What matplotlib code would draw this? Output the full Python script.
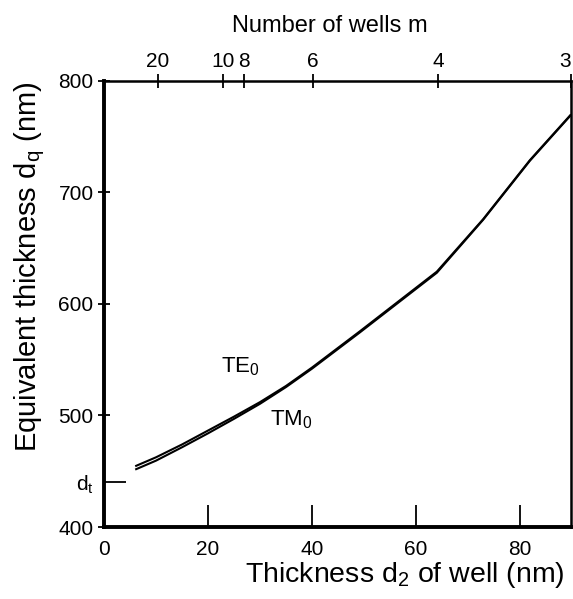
import matplotlib
matplotlib.use("Agg")
import matplotlib.pyplot as plt

plt.rcParams['font.family'] = ['Liberation Sans', 'DejaVu Sans']
plt.rcParams['mathtext.fontset'] = 'custom'
plt.rcParams['mathtext.rm'] = 'Liberation Sans'
plt.rcParams['mathtext.it'] = 'Liberation Sans:italic'

# Data
d2_te = [6.0, 10, 15, 20, 25, 30, 35, 40, 49.2, 64.0, 72.9, 81.9, 89.8]
dq_te = [454.5, 462.5, 474, 486.5, 499, 512, 526.5, 543, 575.5, 629, 676, 729, 770]
d2_tm = [6.0, 10, 15, 20, 25, 30, 35, 40, 49.2, 64.0, 72.9, 81.9, 89.8]
dq_tm = [451.5, 459.5, 471.5, 484, 497, 510.5, 525.5, 542, 574.5, 628, 675.5, 728.5, 769.5]

y_ticks = [400, 500, 600, 700, 800]
x_ticks = [0, 20, 40, 60, 80]
d_t = 440

wells_m = [20, 10, 8, 6, 4, 3]
wells_d2 = [10.4, 22.9, 26.9, 40.2, 64.2, 89.8]

fig = plt.figure(figsize=(5.73, 5.99), dpi=100)
ax = fig.add_axes([0.1815, 0.1202, 0.815, 0.7446])

ax.plot(d2_te, dq_te, color='black', lw=1.5, solid_capstyle='butt')
ax.plot(d2_tm, dq_tm, color='black', lw=1.5, solid_capstyle='butt')

ax.set_xlim(0, 89.8)
ax.set_ylim(400, 800)

ax.set_xticks(x_ticks)
ax.set_xticklabels([str(v) for v in x_ticks], fontsize=15)
ax.set_yticks(y_ticks + [d_t])
ax.set_yticklabels([str(v) for v in y_ticks] + ['d$_{\\mathregular{t}}$'], fontsize=15)

ax.tick_params(axis='x', direction='in', length=16, width=1.3, pad=9)
ax.tick_params(axis='y', direction='inout', length=9, width=1.3, pad=3)
# make d_t tick longer and inward
ytl = ax.yaxis.get_major_ticks()
ytl[-1].tick1line.set_marker(1)  # TICKRIGHT -> inward
ytl[-1].tick1line.set_markersize(16)
for sp in ['left', 'bottom']:
    ax.spines[sp].set_linewidth(2.8)
for sp in ['top', 'right']:
    ax.spines[sp].set_linewidth(1.8)

ax.set_xlabel('Thickness d$_{\\mathregular{2}}$ of well (nm)', fontsize=20.5)
ax.xaxis.set_label_coords(0.645, -0.075)
ax.set_ylabel('Equivalent thickness d$_{\\mathregular{q}}$ (nm)', fontsize=21)
ax.yaxis.set_label_coords(-0.122, 0.583)

top = ax.twiny()
top.set_xlim(ax.get_xlim())
top.set_xticks(wells_d2)
top.set_xticklabels([str(m) for m in wells_m], fontsize=15)
top.tick_params(axis='x', direction='inout', length=10, width=1.3, pad=2)
tls = top.get_xticklabels()
tls[-1].set_horizontalalignment('right')
for sp in top.spines.values():
    sp.set_visible(False)
fig.text(330 / 573, 1 - 26 / 599, 'Number of wells m', fontsize=17,
         ha='center', va='center')

ax.text(26.3, 544, 'TE$_{\\mathregular{0}}$', fontsize=16, ha='center', va='center')
ax.text(36.0, 496, 'TM$_{\\mathregular{0}}$', fontsize=16, ha='center', va='center')

fig.savefig('out.png', dpi=100)
